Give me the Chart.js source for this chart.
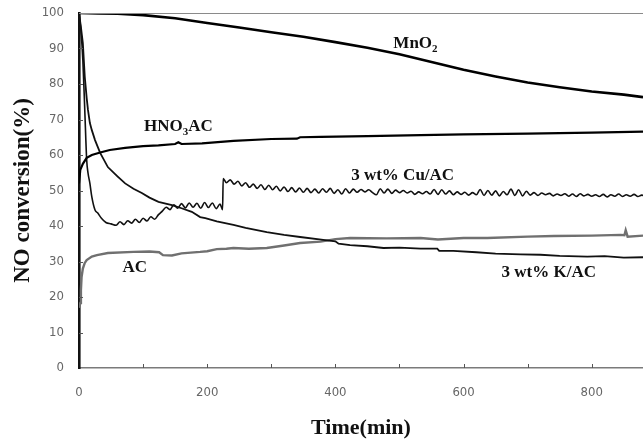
<!DOCTYPE html>
<html lang="en">
  <head>
    <meta charset="UTF-8" />
    <title>NO conversion vs time</title>
    <style>
      * { margin: 0; padding: 0; }
      body { background: #fff; width: 643px; height: 440px; overflow: hidden; }
    </style>
  </head>
  <body>
    <canvas id="myChart" width="643" height="440"></canvas>

    <script src="https://cdn.jsdelivr.net/npm/chart.js"></script>
    <script>
      // data block
      const mnTime = [0, 30, 60, 100, 150, 200, 250, 300, 350, 400, 450, 500, 550, 600, 650, 700, 750, 800, 850, 880];
      const mnConv = [100, 99.9, 99.8, 99.4, 98.5, 97.2, 95.9, 94.6, 93.3, 91.8, 90.2, 88.4, 86.2, 84.0, 82.1, 80.4, 79.1, 77.9, 77.0, 76.3];

      const hnTime = [0, 2, 6, 12, 20, 33, 48, 72, 100, 124, 150, 155, 160, 192, 241, 300, 340, 345, 377, 450, 533, 600, 700, 800, 880];
      const hnConv = [52, 55.8, 57.5, 59.2, 60, 60.7, 61.4, 62, 62.5, 62.7, 63.1, 63.6, 63.1, 63.3, 64.0, 64.5, 64.6, 65.0, 65.1, 65.3, 65.6, 65.8, 66.0, 66.3, 66.6];

      const cuTime = [0, 3, 6, 9, 12, 14, 17, 20, 25, 29, 35, 42,
        50, 58, 64, 70, 76, 82, 88, 94, 100, 106, 112, 118, 124, 130, 136, 142, 148, 154, 160, 166, 172, 178, 184, 190, 196, 202, 208, 214, 220, 224,
        225, 230, 236, 242, 248, 254, 260, 266, 272, 278, 284, 290, 296, 302, 308, 314, 320, 326, 332, 338, 344, 350, 356, 362, 368, 374, 380, 386, 392, 398,
        404, 410, 416, 422, 428, 434, 440, 446, 452, 458, 464, 470, 476, 482, 488, 494, 500, 506, 512, 518, 524, 530, 536, 542, 548, 554, 560, 566, 572, 578,
        584, 590, 596, 602, 608, 614, 620, 626, 632, 638, 644, 650, 656, 662, 668, 674, 680, 686, 692, 698, 704, 710, 716, 722, 728, 734, 740, 746, 752, 758,
        764, 770, 776, 782, 788, 794, 800, 806, 812, 818, 824, 830, 836, 842, 848, 854, 860, 866, 872, 878, 882];
      const cuConv = [100, 95, 86.8, 72.7, 58.6, 55, 52, 48.2, 44.5, 43.7, 42.2, 41.0,
        40.6, 40.2, 41.2, 40.4, 41.5, 40.8, 41.9, 41.0, 42.2, 41.4, 42.6, 41.9, 43.2, 44.2, 45.3, 44.6, 46.0, 45.0, 46.3, 45.1, 46.5, 45.3, 46.4, 45.0, 46.6, 45.2, 46.5, 44.9, 46.2, 44.6,
        53.4, 52.2, 53.0, 51.8, 52.6, 51.3, 52.2, 50.9, 51.8, 50.6, 51.6, 50.3, 51.5, 50.2, 51.2, 49.9, 51.0, 49.7, 50.8, 49.6, 50.7, 49.5, 50.6, 49.4, 50.4, 49.3, 50.5, 49.5, 50.6, 49.2,
        50.2, 49.0, 50.5, 49.3, 50.4, 49.5, 50.3, 49.6, 50.2, 49.4, 48.8, 50.5, 49.3, 50.4, 49.2, 50.1, 49.4, 50.0, 49.3, 49.8, 48.9, 49.6, 49.1, 49.7, 49.0, 50.3, 48.9, 50.2, 49.0, 49.9,
        48.8, 49.6, 48.9, 49.5, 48.7, 49.4, 48.8, 50.3, 48.6, 50.0, 48.7, 49.9, 48.5, 49.7, 48.8, 50.4, 48.6, 50.2, 48.5, 49.8, 48.7, 49.4, 48.6, 49.3, 48.8, 49.2, 48.5, 49.0, 48.6, 49.1,
        48.4, 49.0, 48.3, 49.1, 48.5, 48.9, 48.4, 48.8, 48.3, 48.9, 48.2, 48.8, 48.4, 49.0, 48.3, 48.8, 48.4, 48.9, 48.3, 48.7, 48.5];

      const kTime = [0, 3, 6, 9, 12, 14, 17, 20, 25, 33, 45, 60, 72, 85, 98, 110, 124, 145, 160, 176, 189, 197, 215, 241, 260, 293, 320, 345, 381, 400, 405, 423, 450, 475, 500, 533, 559, 562, 584, 620, 650, 689, 720, 750, 793, 820, 850, 880];
      const kConv = [100, 96, 91.5, 82, 76, 72.7, 69, 67, 64.2, 60.6, 56.6, 54, 52, 50.5, 49.3, 48, 46.8, 45.9, 45, 44, 42.5, 42.2, 41.3, 40.3, 39.5, 38.3, 37.5, 36.9, 36.1, 35.7, 35.0, 34.6, 34.3, 33.8, 33.9, 33.6, 33.6, 33.0, 33.0, 32.6, 32.2, 32.0, 31.9, 31.6, 31.4, 31.5, 31.1, 31.2];

      const acTime = [0, 2, 3, 4, 6, 9, 12, 20, 28, 45, 85, 110, 125, 131, 145, 160, 189, 200, 215, 230, 241, 265, 293, 320, 345, 377, 400, 423, 480, 533, 560, 600, 637, 700, 741, 800, 845, 851, 853, 856, 880];
      const acConv = [17, 18.3, 22, 25.6, 28, 29.6, 30.4, 31.4, 31.8, 32.4, 32.7, 32.8, 32.6, 31.8, 31.7, 32.3, 32.7, 32.9, 33.5, 33.6, 33.8, 33.6, 33.8, 34.5, 35.2, 35.6, 36.3, 36.6, 36.5, 36.6, 36.2, 36.6, 36.6, 37.0, 37.2, 37.3, 37.5, 37.4, 38.8, 37.0, 37.3];

      const xTicks = [0, 200, 400, 600, 800];
      const yTicks = [0, 10, 20, 30, 40, 50, 60, 70, 80, 90, 100];

      const pts = (t, v) => t.map((x, i) => ({ x, y: v[i] }));

      const data = {
        datasets: [
          { label: "MnO2", data: pts(mnTime, mnConv), borderColor: "#000", borderWidth: 2.6 },
          { label: "HNO3AC", data: pts(hnTime, hnConv), borderColor: "#000", borderWidth: 2.2 },
          { label: "3 wt% Cu/AC", data: pts(cuTime, cuConv), borderColor: "#111", borderWidth: 1.6, cubicInterpolationMode: "monotone" },
          { label: "3 wt% K/AC", data: pts(kTime, kConv), borderColor: "#111", borderWidth: 1.8 },
          { label: "AC", data: pts(acTime, acConv), borderColor: "#707070", borderWidth: 2.4 }
        ]
      };

      // curve labels, [text parts], position in data units
      const curveLabels = [
        { parts: [["MnO", 0], ["2", 1]], x: 525, y: 91.3 },
        { parts: [["HNO", 0], ["3", 1], ["AC", 0]], x: 155, y: 67.9 },
        { parts: [["3 wt% Cu/AC", 0]], x: 505, y: 54.1 },
        { parts: [["AC", 0]], x: 87, y: 28.2 },
        { parts: [["3 wt% K/AC", 0]], x: 733, y: 26.8 }
      ];

      const serif = "'Liberation Serif', 'Times New Roman', serif";

      // frame + inner ticks + curve labels
      const decorations = {
        id: "decorations",
        afterDatasetsDraw(chart) {
          const { ctx, chartArea: a, scales: { x, y } } = chart;
          ctx.save();
          ctx.strokeStyle = "#8a8a8a";
          ctx.lineWidth = 1;
          ctx.beginPath();
          ctx.moveTo(a.left, a.top + 0.5);
          ctx.lineTo(a.right, a.top + 0.5);
          ctx.stroke();

          ctx.strokeStyle = "#555";
          ctx.beginPath();
          for (let v = 10; v < 100; v += 10) {
            const py = Math.round(y.getPixelForValue(v)) + 0.5;
            ctx.moveTo(a.left, py);
            ctx.lineTo(a.left + 4, py);
          }
          for (let v = 100; v <= 800; v += 100) {
            const px = Math.round(x.getPixelForValue(v)) + 0.5;
            ctx.moveTo(px, a.bottom);
            ctx.lineTo(px, a.bottom - 4);
          }
          ctx.stroke();

          ctx.fillStyle = "#111";
          ctx.textBaseline = "middle";
          ctx.textAlign = "left";
          curveLabels.forEach((lb) => {
            let w = 0;
            lb.parts.forEach(([t, sub]) => {
              ctx.font = `bold ${sub ? 11 : 17}px ${serif}`;
              w += ctx.measureText(t).width;
            });
            let cx = x.getPixelForValue(lb.x) - w / 2;
            const cy = y.getPixelForValue(lb.y);
            lb.parts.forEach(([t, sub]) => {
              ctx.font = `bold ${sub ? 11 : 17}px ${serif}`;
              ctx.fillText(t, cx, cy + (sub ? 5 : 0));
              cx += ctx.measureText(t).width;
            });
          });
          ctx.restore();
        }
      };

      const tickFont = { family: "'DejaVu Sans Condensed', 'Liberation Sans', sans-serif", size: 13 };

      // config block
      const config = {
        type: "line",
        data,
        options: {
          responsive: false,
          animation: false,
          layout: { padding: { top: 13, right: 0, left: 0, bottom: 0 } },
          elements: { point: { radius: 0 }, line: { tension: 0 } },
          plugins: { legend: { display: false }, tooltip: { enabled: false } },
          scales: {
            x: {
              type: "linear",
              min: 0,
              max: 880,
              afterBuildTicks: (s) => { s.ticks = xTicks.map((v) => ({ value: v })); },
              afterFit: (s) => { s.height = 72; s.paddingLeft = 0; s.paddingRight = 0; },
              grid: { display: false, drawTicks: false },
              border: { color: "#7a7a7a", width: 1.5 },
              ticks: { color: "#666", font: tickFont, padding: 17, maxRotation: 0 },
              title: {
                display: true,
                text: "Time(min)",
                color: "#111",
                font: { family: serif, size: 22, weight: "bold", lineHeight: 1 },
                padding: { top: 0, bottom: 1 }
              }
            },
            y: {
              min: 0,
              max: 100,
              afterBuildTicks: (s) => { s.ticks = yTicks.map((v) => ({ value: v })); },
              afterFit: (s) => { s.width = 79; s.paddingTop = 0; s.paddingBottom = 0; },
              grid: { display: false, drawTicks: false },
              border: { color: "#111", width: 2.6 },
              ticks: { color: "#666", font: tickFont, padding: 15 },
              title: {
                display: true,
                text: "NO conversion(%)",
                color: "#111",
                font: { family: serif, size: 23, weight: "bold", lineHeight: 1 },
                padding: { top: 12, bottom: 0 }
              }
            }
          }
        },
        plugins: [decorations]
      };

      // init render block
      const myChart = new Chart(document.getElementById("myChart"), config);
    </script>
  </body>
</html>
